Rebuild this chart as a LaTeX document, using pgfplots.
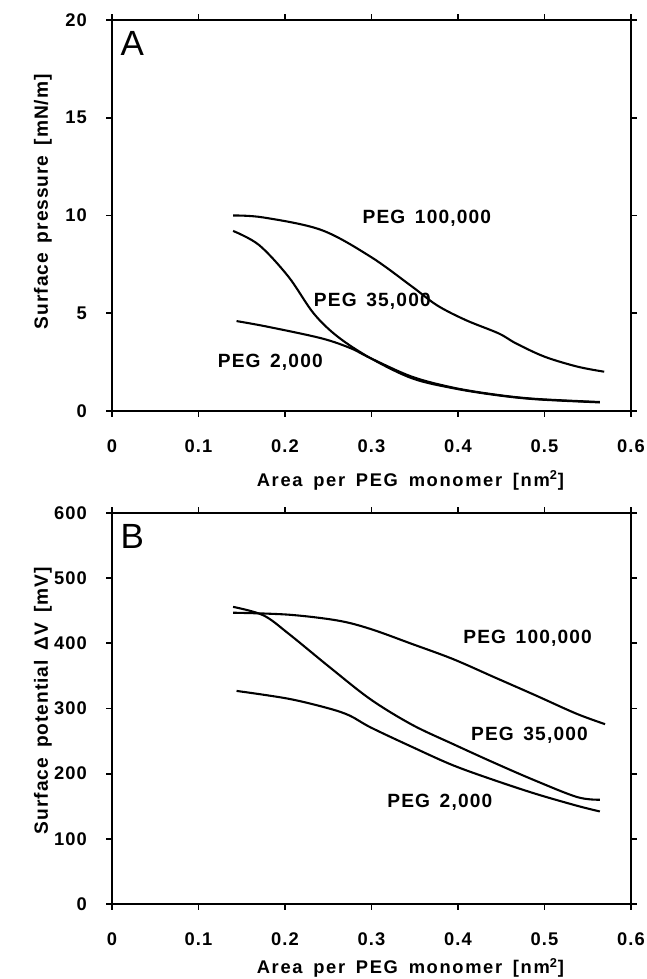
\documentclass[border=0pt]{standalone}
\usepackage{fontspec}
\setmainfont{Liberation Sans}[LetterSpace=6]
\newfontfamily\widefont{Liberation Sans}[LetterSpace=9, WordSpace=1.6]
\newfontfamily\labfont{Liberation Sans}[LetterSpace=5, WordSpace=1.6]
\usepackage{pgfplots}
\pgfplotsset{compat=1.18}

\pgfplotsset{
  pegpanel/.style={
    scale only axis, width=311.4pt, height=234.6pt,
    xmin=0, xmax=0.6, xtick={0,0.1,...,0.6},
    tick align=outside, major tick length=3.5pt,
    xticklabel pos=lower, yticklabel pos=left,
    axis line style={line width=1.6pt}, tick style={line width=1.1pt, black},
    /pgf/number format/assume math mode=true,
    /pgf/number format/fixed,
    tick label style={font=\fontsize{11}{13}\selectfont\bfseries},
    xticklabel style={yshift=-10pt},
    yticklabel style={xshift=-8pt},
    xlabel style={font=\widefont\fontsize{11}{13}\selectfont\bfseries, anchor=center},
    ylabel style={font=\labfont\fontsize{11.5}{13}\selectfont\bfseries, anchor=center},
    every axis plot post/.append style={black, line width=1.25pt, smooth, tension=0.55, mark=none},
    clip=false,
  },
}
\tikzset{peglab/.style={font=\fontsize{11.5}{13}\selectfont\bfseries}}

\begin{document}
\begin{tikzpicture}
% panel A
\begin{axis}[pegpanel, at={(0,0)}, anchor=south west,
  ymin=0, ymax=20, ytick={0,5,...,20},
  xlabel={Area per PEG monomer [nm\textsuperscript{2}]},
  ylabel={Surface pressure [mN/m]},
  xlabel style={at={(axis description cs:0.575,-0.177)}},
  ylabel style={at={(axis description cs:-0.133,0.535)}}]
\addplot coordinates {(0.140,10.0)(0.175,9.9)(0.242,9.26)(0.299,7.89)(0.347,6.36)(0.376,5.40)
  (0.409,4.65)(0.447,3.97)(0.467,3.46)(0.500,2.78)(0.538,2.27)(0.569,2.01)};
\addplot coordinates {(0.140,9.21)(0.170,8.49)(0.204,6.87)(0.233,5.0)(0.261,3.80)(0.299,2.70)
  (0.347,1.67)(0.395,1.16)(0.443,0.82)(0.490,0.60)(0.564,0.44)};
\addplot coordinates {(0.144,4.60)(0.180,4.31)(0.242,3.72)(0.276,3.21)(0.299,2.70)(0.347,1.75)
  (0.395,1.19)(0.443,0.84)(0.490,0.62)(0.564,0.46)};
\node[peglab] at (axis cs:0.364,9.86) {PEG\hspace{0.5em}100,000};
\node[peglab] at (axis cs:0.301,5.63) {PEG\hspace{0.5em}35,000};
\node[peglab] at (axis cs:0.183,2.47) {PEG\hspace{0.5em}2,000};
\node[anchor=north west, inner sep=0pt, font=\fontsize{21}{23}\selectfont] at (rel axis cs:0.016,0.972) {A};
\end{axis}
% panel B
\begin{axis}[pegpanel, at={(0,-295.8pt)}, anchor=south west,
  ymin=0, ymax=600, ytick={0,100,...,600},
  xlabel={Area per PEG monomer [nm\textsuperscript{2}]},
  ylabel={Surface potential ΔV [mV]},
  xlabel style={at={(axis description cs:0.575,-0.163)}},
  ylabel style={at={(axis description cs:-0.133,0.52)}}]
\addplot coordinates {(0.140,447)(0.204,444)(0.261,435)(0.299,422)(0.347,399)(0.394,376)
  (0.442,348)(0.490,320)(0.537,292)(0.570,276)};
\addplot coordinates {(0.140,456)(0.175,443)(0.204,415)(0.252,363)(0.299,314)(0.347,275)
  (0.395,245)(0.443,216)(0.490,189)(0.538,164)(0.564,160)};
\addplot coordinates {(0.144,327)(0.204,315)(0.251,300)(0.275,289)(0.299,271)(0.347,241)
  (0.394,213)(0.442,190)(0.490,169)(0.537,151)(0.564,142)};
\node[peglab] at (axis cs:0.4805,408) {PEG\hspace{0.5em}100,000};
\node[peglab] at (axis cs:0.4826,259) {PEG\hspace{0.5em}35,000};
\node[peglab] at (axis cs:0.379,156) {PEG\hspace{0.5em}2,000};
\node[anchor=north west, inner sep=0pt, font=\fontsize{21}{23}\selectfont] at (rel axis cs:0.016,0.972) {B};
\end{axis}
\pgfresetboundingbox
\path (-67.2pt,-340.8pt) rectangle (321pt,246.6pt);
\end{tikzpicture}
\end{document}
